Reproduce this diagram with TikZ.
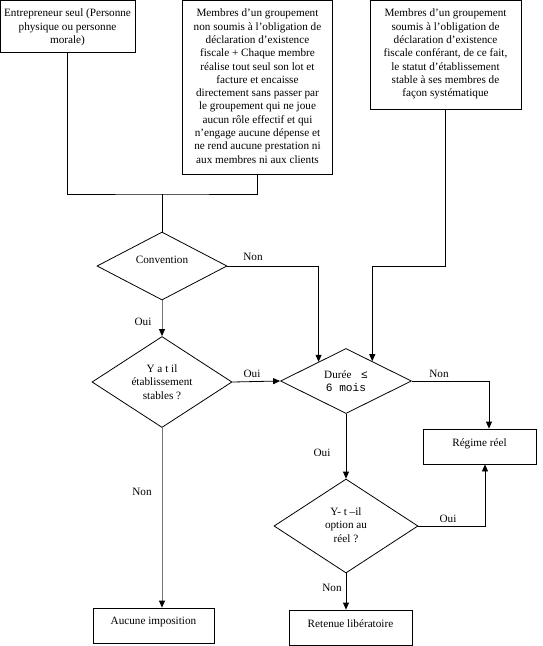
\documentclass[tikz,border=0pt]{standalone}
\usepackage{fontspec}
\setmainfont{Liberation Serif}
\newfontfamily\cour{Liberation Mono}
\usetikzlibrary{shapes.geometric,arrows.meta,calc}
\tikzset{
  box/.style={draw, line width=0.8pt, inner sep=0pt},
  dia/.style={draw, shape=diamond, line width=0.8pt, inner sep=0pt},
  ln/.style={line width=0.8pt},
  arr/.style={line width=0.8pt, -{Triangle[length=7pt,width=6pt]}},
  garr/.style={line width=0.8pt, draw=black!55, -{Triangle[length=7pt,width=6pt,color=black]}},
  txt/.style={font=\fontsize{11.2}{13.3}\selectfont, align=center, inner sep=0pt},
  lab/.style={font=\fontsize{11.2}{13.3}\selectfont, inner sep=0pt}
}
\begin{document}
\begin{tikzpicture}[x=1pt,y=-1pt]
\useasboundingbox (0,0) rectangle (543,646);
% boxes
\node[box, minimum width=135pt, minimum height=52pt] (b1) at (67.5,26) {};
\node[box, minimum width=150pt, minimum height=174pt] (b2) at (257.5,87) {};
\node[box, minimum width=151pt, minimum height=109pt] (b3) at (445.5,54.5) {};
\node[box, minimum width=113pt, minimum height=35pt] (reg) at (479.5,446.5) {};
\node[box, minimum width=121pt, minimum height=35pt] (auc) at (153.5,625.5) {};
\node[box, minimum width=123pt, minimum height=35pt] (ret) at (350.5,627.5) {};
% box texts
\node[txt, anchor=north] (t1) at ([yshift=-9.3pt]b1.north) {Entrepreneur seul (Personne\\physique ou personne\\morale)};
\node[txt, anchor=north] (t2) at ([yshift=-9.3pt]b2.north) {Membres d’un groupement\\non soumis à l’obligation de\\déclaration d’existence\\fiscale + Chaque membre\\réalise tout seul son lot et\\facture et encaisse\\directement sans passer par\\le groupement qui ne joue\\aucun rôle effectif et qui\\n’engage aucune dépense et\\ne rend aucune prestation ni\\aux membres ni aux clients};
\node[txt, anchor=north] (t3) at ([yshift=-9.3pt]b3.north) {Membres d’un groupement\\soumis à l’obligation de\\déclaration d’existence\\fiscale conférant, de ce fait,\\le statut d’établissement\\stable à ses membres de\\façon systématique};
\node[txt] (treg) at ([yshift=3pt]reg.center) {Régime réel};
\node[txt] (tauc) at ([yshift=3.5pt]auc.center) {Aucune imposition};
\node[txt] (tret) at ([yshift=3.5pt]ret.center) {Retenue libératoire};
% diamonds
\node[dia, minimum width=130pt, minimum height=68pt] (conv) at (162,266) {};
\node[dia, minimum width=140pt, minimum height=91pt] (yatil) at (162,382) {};
\node[dia, minimum width=131pt, minimum height=65pt] (duree) at (346,381) {};
\node[dia, minimum width=144pt, minimum height=94pt] (yt) at (346,526) {};
\node[txt] (tconv) at ([yshift=6pt]conv.center) {Convention};
\node[txt] (tyatil) at (yatil.center) {Y a t il\\établissement\\stables ?};
\node[txt] (tduree) at (duree.center) {Durée {\cour\ ≤}\\{\cour 6 mois}};
\node[txt] (tyt) at ([yshift=1pt]yt.center) {Y- t –il\\option au\\réel ?};
% connectors
\coordinate (j) at (162,194);
\draw[ln] (b1.south) |- (j) -| (b2.south);
\draw[ln] (j) -- (conv.north);
\draw[arr] (conv.east) -| (duree.145);
\draw[arr] (b3.south) -- (b3.south |- conv.east) -| (duree.37);
\draw[garr] (conv.south) -- (yatil.north);
\draw[arr] (yatil.east) -- (duree.west);
\draw[arr] (duree.east) -| ([xshift=9.5pt]reg.north);
\draw[arr] (duree.south) -- (yt.north);
\draw[arr] (yt.east) -| ([xshift=5.5pt]reg.south);
\draw[arr] (yt.south) -- (yt.south |- ret.north);
\draw[garr] (yatil.south) -- (yatil.south |- auc.north);
% labels
\node[lab] (l1) at (253,257) {Non};
\node[lab] (l2) at (143,322) {Oui};
\node[lab] (l3) at (252,374) {Oui};
\node[lab] (l4) at (439,374) {Non};
\node[lab] (l5) at (322,453) {Oui};
\node[lab] (l6) at (448,519) {Oui};
\node[lab] (l7) at (332,588) {Non};
\node[lab] (l8) at (142,492) {Non};
\end{tikzpicture}
\end{document}
